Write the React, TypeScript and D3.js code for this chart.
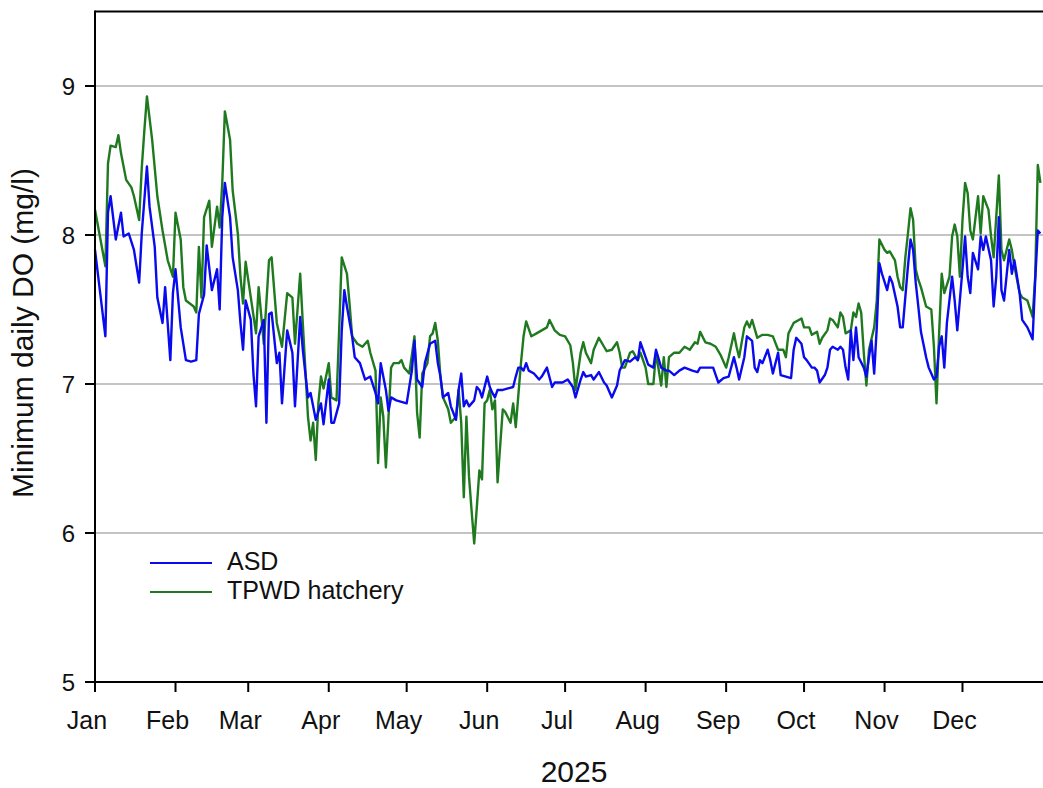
import React from "react";
import * as d3 from "d3";

// ---- data (day offset from 1 Jan 2025, minimum daily DO in mg/l) ----
const asdDay = [0,2,4,5,6,8,10,11,13,15,17,18,20,21,23,24,26,27,29,30,31,33,35,37,39,40,42,43,45,47,48,49,50,52,53,55,56,57,58,60,61,62,63,65,66,67,68,70,71,72,74,76,77,79,80,82,83,85,87,88,90,91,92,94,95,96,97,99,100,102,104,106,108,109,110,112,113,114,116,118,120,122,123,124,126,127,129,131,132,133,134,136,137,139,140,141,142,143,144,146,147,148,149,151,152,153,154,155,157,159,161,162,163,164,165,166,167,169,171,172,174,176,177,178,180,182,184,185,187,188,189,191,192,194,196,197,199,201,202,204,206,208,209,210,211,213,215,216,218,220,221,223,225,227,230,232,233,236,238,239,240,242,244,246,247,248,250,251,253,254,255,256,257,259,260,261,263,264,266,268,269,270,272,273,274,276,277,278,279,281,282,283,284,286,287,288,289,290,291,292,293,294,296,297,298,299,300,301,302,303,305,306,307,309,310,311,313,314,315,316,317,318,320,321,322,323,324,325,326,327,328,330,331,332,334,335,336,337,338,340,341,342,343,345,346,347,348,349,350,352,353,354,356,357,359,360,361,362,363,364];
const asdDO = [7.90,7.61,7.32,8.15,8.26,7.97,8.15,7.99,8.01,7.90,7.68,8.01,8.46,8.19,7.92,7.58,7.41,7.65,7.16,7.61,7.77,7.38,7.16,7.15,7.16,7.47,7.60,7.93,7.63,7.77,7.50,8.12,8.35,8.12,7.85,7.63,7.41,7.23,7.56,7.43,7.07,6.85,7.32,7.43,6.74,7.47,7.48,7.14,7.21,6.87,7.36,7.21,6.85,7.45,7.23,6.91,6.94,6.76,6.87,6.73,7.03,6.74,6.74,6.87,7.36,7.63,7.52,7.32,7.18,7.14,7.03,7.05,6.94,6.87,7.14,6.96,6.82,6.91,6.89,6.88,6.87,7.09,7.29,7.03,6.98,7.14,7.27,7.29,7.14,7.05,6.91,6.94,6.85,6.76,6.96,7.07,6.85,6.89,6.85,6.89,6.98,6.96,6.91,7.05,6.98,6.94,6.91,6.96,6.96,6.97,6.98,7.05,7.11,7.11,7.09,7.14,7.09,7.07,7.03,7.05,7.11,6.98,7.01,7.01,7.01,7.03,6.98,6.91,7.03,7.08,7.05,7.06,7.03,7.08,7.01,6.99,6.91,6.99,7.09,7.16,7.15,7.18,7.16,7.28,7.23,7.13,7.11,7.23,7.11,7.09,7.09,7.06,7.09,7.11,7.09,7.08,7.11,7.11,7.11,7.06,7.01,7.04,7.05,7.18,7.11,7.03,7.18,7.32,7.29,7.11,7.08,7.16,7.14,7.23,7.16,7.07,7.21,7.06,7.05,7.04,7.23,7.31,7.27,7.18,7.16,7.11,7.11,7.09,7.01,7.06,7.11,7.23,7.25,7.23,7.25,7.23,7.11,7.03,7.36,7.16,7.38,7.18,7.11,7.05,7.18,7.29,7.07,7.38,7.81,7.74,7.63,7.72,7.68,7.52,7.38,7.38,7.79,7.97,7.90,7.68,7.52,7.35,7.18,7.11,7.07,7.03,7.05,7.25,7.32,7.11,7.41,7.72,7.56,7.36,7.77,7.99,7.72,7.61,7.88,7.77,7.99,7.90,7.99,7.83,7.52,7.72,8.12,7.63,7.56,7.90,7.74,7.83,7.61,7.43,7.38,7.34,7.30,7.70,8.03,8.01];

const tpwdDay = [0,2,4,5,6,8,9,10,12,14,15,17,18,19,20,22,24,26,28,30,31,33,34,35,38,39,40,41,42,44,45,47,48,49,50,52,53,55,56,57,58,60,62,63,65,67,68,70,72,74,76,77,79,80,82,83,84,85,86,87,88,90,91,93,94,95,97,98,99,101,103,105,106,108,109,110,111,112,114,115,117,118,119,121,123,124,125,126,128,129,130,131,132,133,134,136,137,139,140,141,142,143,144,145,146,147,148,149,150,151,152,153,154,155,157,158,160,161,162,164,165,166,168,170,172,174,175,177,179,181,183,184,185,187,188,189,191,192,193,194,196,197,199,201,202,203,204,206,207,209,210,212,213,215,216,218,219,220,221,223,225,227,229,231,232,233,235,237,239,241,243,244,246,247,248,250,251,252,253,255,257,259,261,263,265,266,267,269,271,272,273,275,276,278,279,280,282,283,284,286,287,288,289,291,292,293,294,295,296,297,298,300,301,302,304,305,306,308,309,310,311,312,313,314,315,316,317,318,320,322,323,324,325,326,327,329,330,331,332,333,334,335,336,337,338,340,341,342,344,345,346,347,348,349,350,352,353,354,356,357,359,361,362,363,364];
const tpwdDO = [8.17,7.98,7.79,8.48,8.60,8.59,8.67,8.55,8.37,8.32,8.26,8.10,8.45,8.70,8.93,8.64,8.26,8.03,7.83,7.72,8.15,7.97,7.65,7.56,7.52,7.48,7.92,7.58,8.12,8.23,7.92,8.19,8.05,8.35,8.83,8.64,8.30,8.01,7.72,7.54,7.82,7.58,7.34,7.65,7.27,7.83,7.85,7.41,7.25,7.61,7.58,7.27,7.74,7.41,6.78,6.62,6.74,6.49,6.87,7.05,6.97,7.14,6.91,6.89,7.36,7.85,7.74,7.54,7.32,7.27,7.25,7.29,7.21,7.09,6.47,6.91,6.78,6.44,7.11,7.14,7.14,7.16,7.11,7.07,7.32,6.81,6.64,7.07,7.14,7.32,7.34,7.41,7.29,7.05,6.91,6.83,6.74,6.78,6.96,6.74,6.24,6.78,6.38,6.15,5.93,6.17,6.42,6.36,6.87,6.89,6.96,6.83,6.89,6.34,6.83,6.81,6.74,6.87,6.71,7.14,7.32,7.42,7.32,7.34,7.36,7.38,7.43,7.36,7.33,7.32,7.26,7.14,6.96,7.21,7.28,7.21,7.14,7.23,7.27,7.31,7.25,7.22,7.23,7.28,7.21,7.11,7.11,7.21,7.22,7.16,7.21,7.11,7.00,7.00,7.21,6.99,7.18,6.98,7.18,7.21,7.21,7.25,7.23,7.28,7.27,7.35,7.28,7.27,7.25,7.19,7.11,7.18,7.34,7.25,7.18,7.38,7.42,7.38,7.43,7.31,7.33,7.33,7.32,7.23,7.23,7.18,7.34,7.41,7.43,7.44,7.38,7.38,7.33,7.35,7.27,7.31,7.36,7.44,7.43,7.38,7.48,7.45,7.34,7.36,7.48,7.45,7.54,7.48,7.21,6.99,7.23,7.38,7.56,7.97,7.90,7.88,7.89,7.83,7.72,7.65,7.63,7.85,8.01,8.18,8.10,7.77,7.70,7.65,7.52,7.50,7.25,6.87,7.34,7.74,7.61,7.72,7.99,8.07,7.99,7.72,8.10,8.35,8.28,8.03,7.97,8.26,8.01,8.26,8.17,7.99,7.85,8.12,8.40,7.90,7.83,7.97,7.90,7.79,7.61,7.58,7.56,7.45,7.72,8.47,8.35];

const yTicks = [5, 6, 7, 8, 9];
const gridValues = [6, 7, 8, 9];
const monthLabels = ["Jan","Feb","Mar","Apr","May","Jun","Jul","Aug","Sep","Oct","Nov","Dec"];
const seriesNames = ["ASD", "TPWD hatchery"];
const yearLabel = "2025";
const yTitle = "Minimum daily DO (mg/l)";

const W = 1043, H = 788;
const FONT = "'Liberation Sans', Arial, sans-serif";
const BLUE = "#0a0aee";
const GREEN = "#1f7a1f";

export default function App() {
  const start = new Date(2025, 0, 1);
  const end = new Date(2026, 0, 1);
  const x = d3.scaleTime().domain([start, end]).range([95, 1043]);
  const y = d3.scaleLinear().domain([5, 9.5]).range([682, 11.5]);
  const toDate = (d: number) => d3.timeDay.offset(start, d);

  const line = d3
    .line<[number, number]>()
    .x((p) => x(toDate(p[0])))
    .y((p) => y(p[1]));

  const asd = asdDay.map((d, i) => [d, asdDO[i]] as [number, number]);
  const tpwd = tpwdDay.map((d, i) => [d, tpwdDO[i]] as [number, number]);
  const months = d3.timeMonth.range(start, end);

  return (
    <div style={{ position: "absolute", left: 0, top: 0 }}>
      <svg width={W} height={H} style={{ display: "block", background: "#fff" }}>
        {/* gridlines */}
        {gridValues.map((v) => (
          <line key={v} x1={95} x2={1043} y1={y(v)} y2={y(v)} stroke="#c4c4c4" strokeWidth={2} />
        ))}
        {/* series */}
        <path d={line(tpwd) || ""} fill="none" stroke={GREEN} strokeWidth={2.4} strokeLinejoin="round" />
        <path d={line(asd) || ""} fill="none" stroke={BLUE} strokeWidth={2.4} strokeLinejoin="round" />
        {/* frame */}
        <line x1={95} x2={1043} y1={11.5} y2={11.5} stroke="#000" strokeWidth={2} />
        <line x1={95} x2={95} y1={10.5} y2={683} stroke="#000" strokeWidth={2} />
        <line x1={94} x2={1043} y1={682} y2={682} stroke="#000" strokeWidth={2} />
        {/* y ticks */}
        {yTicks.map((v) => (
          <g key={v}>
            <line x1={85} x2={95} y1={y(v)} y2={y(v)} stroke="#000" strokeWidth={2} />
            <text x={75} y={y(v)} dy="0.36em" textAnchor="end" fontFamily={FONT} fontSize={24} fill="#111">
              {v}
            </text>
          </g>
        ))}
        {/* x ticks */}
        {months.map((m, i) => (
          <g key={i}>
            <line x1={x(m)} x2={x(m)} y1={682} y2={692} stroke="#000" strokeWidth={2} />
            <text x={x(m) - 8} y={729} textAnchor="middle" fontFamily={FONT} fontSize={25} fill="#111">
              {monthLabels[i]}
            </text>
          </g>
        ))}
        {/* axis titles */}
        <text x={574} y={782} textAnchor="middle" fontFamily={FONT} fontSize={30} fill="#111">
          {yearLabel}
        </text>
        <text
          transform={`translate(33,${333}) rotate(-90)`}
          textAnchor="middle"
          fontFamily={FONT}
          fontSize={30}
          fill="#111"
        >
          {yTitle}
        </text>
        {/* legend */}
        <line x1={150} x2={212} y1={563} y2={563} stroke={BLUE} strokeWidth={2} />
        <text x={227} y={570} fontFamily={FONT} fontSize={25} fill="#111">{seriesNames[0]}</text>
        <line x1={150} x2={212} y1={592} y2={592} stroke={GREEN} strokeWidth={2} />
        <text x={227} y={599} fontFamily={FONT} fontSize={25} fill="#111">{seriesNames[1]}</text>
      </svg>
    </div>
  );
}
